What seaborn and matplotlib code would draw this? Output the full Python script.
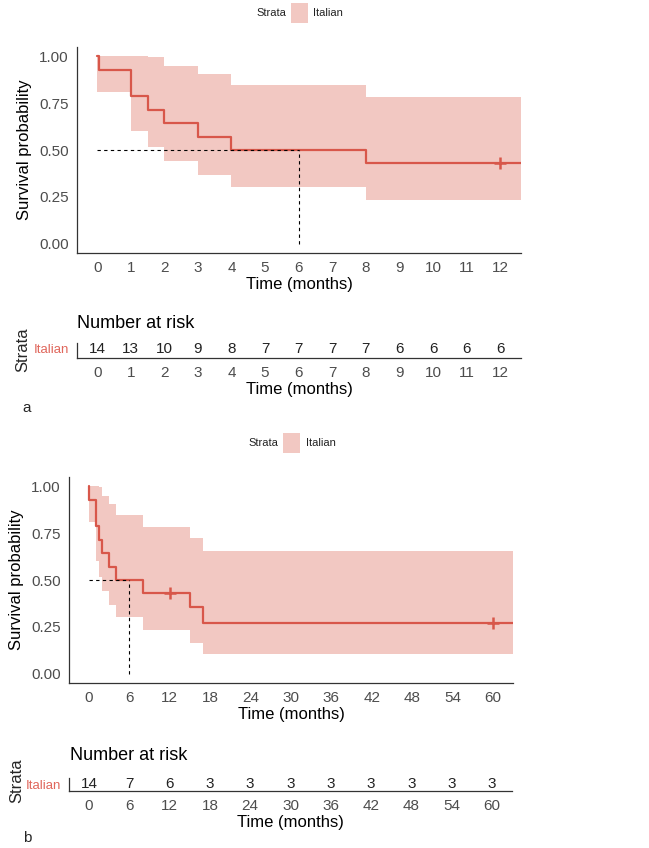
import numpy as np
import pandas as pd
import matplotlib
matplotlib.use("Agg")
import matplotlib.pyplot as plt
from matplotlib.patches import Rectangle
import seaborn as sns

# Kaplan-Meier estimates
event_times_a = [0, 0.05, 1, 1.5, 2, 3, 4, 8, 12.62]
surv_a = [1.0, 0.929, 0.786, 0.714, 0.643, 0.571, 0.500, 0.429, 0.429]
upper_a = [1.0, 1.0, 1.0, 0.995, 0.95, 0.905, 0.845, 0.785, 0.785]
lower_a = [0.81, 0.81, 0.60, 0.515, 0.44, 0.365, 0.30, 0.235, 0.235]
censor_a = [12]
censor_surv_a = [0.429]
risk_times_a = list(range(0, 13))
risk_a = [14, 13, 10, 9, 8, 7, 7, 7, 7, 6, 6, 6, 6]

event_times_b = [0, 0.05, 1, 1.5, 2, 3, 4, 8, 15, 17, 63]
surv_b = [1.0, 0.929, 0.786, 0.714, 0.643, 0.571, 0.500, 0.429, 0.357, 0.268, 0.268]
upper_b = [1.0, 1.0, 1.0, 0.995, 0.95, 0.905, 0.845, 0.785, 0.725, 0.655, 0.655]
lower_b = [0.81, 0.81, 0.60, 0.515, 0.44, 0.365, 0.30, 0.235, 0.165, 0.105, 0.105]
censor_b = [12, 60]
censor_surv_b = [0.429, 0.268]
risk_times_b = list(range(0, 61, 6))
risk_b = [14, 7, 6, 3, 3, 3, 3, 3, 3, 3, 3]

median_time = 6

LINE = "#D8574A"
FILL = "#F2C8C2"
LABEL_RED = "#E0675C"
GREY = "#4D4D4D"

sns.set_style("white")
plt.rcParams["font.family"] = ["Liberation Sans Narrow", "Liberation Sans", "DejaVu Sans"]

W, H = 649, 848
fig = plt.figure(figsize=(W / 100, H / 100), dpi=100)


def box(l, t, r, b):
    return [l / W, 1 - b / H, (r - l) / W, (b - t) / H]


def style_axes(ax):
    sns.despine(ax=ax)
    for s in ("left", "bottom"):
        ax.spines[s].set_color("#333333")
        ax.spines[s].set_linewidth(0.9)


def survival_panel(rect, times, surv, up, lo, cens, cens_s, xlim, xticks):
    ax = fig.add_axes(rect)
    df = pd.DataFrame({"time": times, "surv": surv, "upper": up, "lower": lo})
    ax.fill_between(df["time"], df["lower"], df["upper"], step="post",
                    color=FILL, linewidth=0)
    sns.lineplot(data=df, x="time", y="surv", drawstyle="steps-post",
                 color=LINE, linewidth=1.6, ax=ax, estimator=None, sort=False)
    cdf = pd.DataFrame({"time": cens, "surv": cens_s})
    sns.scatterplot(data=cdf, x="time", y="surv", marker="+", s=70,
                    color=LINE, linewidth=1.8, ax=ax, zorder=5)
    ax.plot([0, median_time], [0.5, 0.5], ls=(0, (3, 3)), color="black", lw=0.8)
    ax.plot([median_time, median_time], [0, 0.5], ls=(0, (3, 3)), color="black", lw=0.8)
    ax.set_xlim(*xlim)
    ax.set_ylim(-0.05, 1.05)
    ax.set_xticks(xticks)
    ax.set_yticks([0, 0.25, 0.5, 0.75, 1.0])
    ax.set_yticklabels(["0.00", "0.25", "0.50", "0.75", "1.00"])
    ax.set_xlabel("Time (months)", fontsize=12, color="black", labelpad=1)
    ax.set_ylabel("Survival probability", fontsize=12, color="black", labelpad=5)
    style_axes(ax)
    ax.tick_params(axis="both", labelsize=11, colors=GREY, length=4, width=0.8,
                   direction="out", pad=2)
    ax.tick_params(axis="both", color="#333333")
    return ax


def risk_panel(rect, times, counts, xlim, yrow):
    ax = fig.add_axes(rect)
    for t, n in zip(times, counts):
        ax.text(t, yrow, str(n), ha="center", va="center", fontsize=11, color="#222222")
    ax.set_xlim(*xlim)
    ax.set_ylim(0, 1)
    ax.set_xticks(times)
    ax.set_yticks([yrow])
    ax.set_yticklabels(["Italian"])
    ax.get_yticklabels()[0].set_color(LABEL_RED)
    ax.set_xlabel("Time (months)", fontsize=12, color="black", labelpad=1)
    style_axes(ax)
    ax.tick_params(axis="x", labelsize=11, colors=GREY, length=4, width=0.8, pad=2)
    ax.tick_params(axis="x", color="#333333")
    ax.tick_params(axis="y", labelsize=9.5, length=4, width=0.8, pad=2, color="#333333")
    ax.patch.set_alpha(0)
    return ax


def legend(y, x_strata, x_patch, x_lab):
    fig.text(x_strata / W, 1 - y / H, "Strata", fontsize=8, color="#222222",
             ha="left", va="center")
    fig.patches.append(Rectangle((x_patch / W, 1 - (y + 10) / H), 17 / W, 20 / H,
                                 transform=fig.transFigure, facecolor=FILL,
                                 edgecolor="none"))
    fig.text(x_lab / W, 1 - y / H, "Italian", fontsize=8, color="#222222",
             ha="left", va="center")


# panel a
legend(13, 256, 291, 313)
xlim_a = (-0.6, 12.62)
survival_panel(box(77, 47, 521, 253), event_times_a, surv_a, upper_a, lower_a,
               censor_a, censor_surv_a, xlim_a, risk_times_a)
risk_panel(box(77, 343, 521, 358), risk_times_a, risk_a, xlim_a, 0.6)
fig.text(77 / W, 1 - 323 / H, "Number at risk", fontsize=13, color="black",
         ha="left", va="center")
fig.text(23 / W, 1 - 350 / H, "Strata", fontsize=12, rotation=90,
         ha="center", va="center")
fig.text(27 / W, 1 - 408 / H, "a", fontsize=11, ha="center", va="center")

# panel b
legend(443, 248, 283, 306)
xlim_b = (-2.97, 62.97)
survival_panel(box(69, 477, 513, 683), event_times_b, surv_b, upper_b, lower_b,
               censor_b, censor_surv_b, xlim_b, risk_times_b)
risk_panel(box(69, 778, 512, 791), risk_times_b, risk_b, xlim_b, 0.5)
fig.text(70 / W, 1 - 755 / H, "Number at risk", fontsize=13, color="black",
         ha="left", va="center")
fig.text(17 / W, 1 - 781 / H, "Strata", fontsize=12, rotation=90,
         ha="center", va="center")
fig.text(27 / W, 1 - 838 / H, "b", fontsize=11, ha="center", va="center")

fig.savefig("out.png", dpi=100)
